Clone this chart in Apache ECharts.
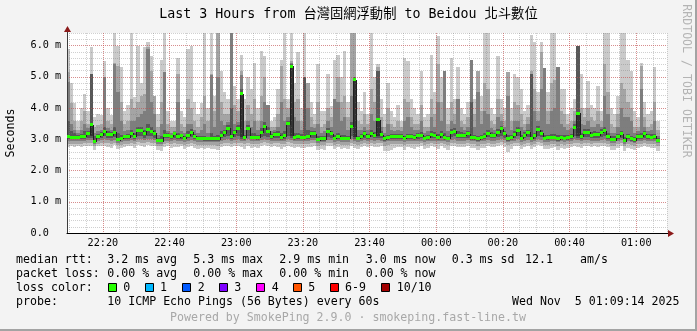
<!DOCTYPE html>
<html><head><meta charset="utf-8">
<script src="https://cdn.jsdelivr.net/npm/echarts@6/dist/echarts.min.js"></script>
<style>html,body{margin:0;padding:0;background:#f3f3f3}#c{width:697px;height:331px}</style>
</head><body><div id="c"></div><script>
// ---- data: one slot per minute, first slot starts 22:09 (minutes after 22:00) ----
const FIRST_SLOT = 9;
const START_MIN = 9 + 14 / 60;          // 22:09:14
const END_MIN = START_MIN + 180;         // 01:09:14
const title = 'Last 3 Hours from 台灣固網浮動制 to Beidou 北斗數位';

const median = [
3.10,3.07,3.07,3.07,3.08,3.10,3.17,3.47,2.94,3.10,
3.14,3.25,3.15,3.14,3.23,2.99,3.04,3.08,3.08,3.19,
3.09,3.27,3.27,3.17,3.30,3.25,3.19,2.96,2.96,3.13,
3.13,3.10,3.17,3.08,3.12,3.04,3.13,3.23,3.10,3.04,
3.04,3.01,3.01,3.02,3.02,3.01,3.13,3.21,3.36,3.09,
3.22,3.36,4.46,3.06,3.36,3.07,3.07,3.06,3.23,3.41,
3.25,3.09,3.15,3.15,3.06,3.12,3.49,5.33,3.06,3.09,
3.07,3.06,3.09,3.17,3.17,2.99,3.01,3.02,3.25,3.17,
3.04,3.09,3.04,3.04,3.04,3.42,4.91,3.04,3.09,3.17,
3.09,3.20,3.13,3.63,3.15,3.01,3.06,3.08,3.10,3.08,
3.10,3.03,3.08,3.08,3.06,3.11,3.13,3.04,3.06,3.15,
3.13,3.06,3.15,3.06,3.04,3.23,3.25,3.13,3.13,3.13,
3.17,3.06,3.06,3.01,3.06,3.10,3.19,3.13,3.13,3.23,
3.33,3.17,3.03,3.06,3.15,3.27,3.04,3.13,3.22,3.04,
3.11,3.31,3.20,3.04,3.05,3.07,3.07,3.01,3.06,3.04,
3.06,3.09,3.38,3.84,3.09,3.22,3.22,3.13,3.15,3.15,
3.22,3.27,3.09,2.99,2.99,3.09,3.17,2.96,3.08,3.02,
2.98,3.09,3.09,3.17,3.09,3.07,3.09,2.97];

const ping10 = [
5.89,4.80,4.15,3.60,4.00,4.45,3.90,5.95,3.70,3.80,
3.78,5.52,4.00,3.78,6.60,6.00,5.30,3.90,4.10,6.60,
4.35,6.00,4.80,5.94,6.10,5.65,4.40,3.80,5.55,6.60,
3.90,3.60,3.60,5.60,3.90,3.70,5.90,6.00,4.20,3.80,
4.16,6.60,4.00,6.60,4.40,6.60,5.20,4.50,4.30,6.60,
4.70,4.30,5.70,4.30,5.00,4.60,5.45,4.00,5.83,5.65,
4.10,3.60,3.70,4.60,5.55,6.60,4.30,6.60,4.80,5.80,
4.00,6.60,4.80,4.20,3.80,5.40,3.90,3.90,5.08,4.08,
5.55,5.70,5.00,5.83,4.20,6.60,6.60,4.20,3.90,4.50,
3.80,6.60,5.00,5.40,4.30,3.80,4.80,3.90,3.70,4.10,
3.60,5.60,5.50,4.30,4.00,3.80,5.20,3.70,3.80,5.70,
4.50,6.30,5.00,5.20,4.00,5.60,4.30,5.30,4.00,3.80,
4.20,5.55,4.30,5.20,4.40,6.60,6.60,4.00,3.80,5.65,
4.30,4.00,5.15,4.00,5.10,5.00,4.60,3.90,4.10,6.35,
6.10,4.50,6.10,5.28,4.50,6.60,6.60,5.30,4.60,4.60,
3.80,4.00,4.30,6.00,5.10,4.00,4.85,4.10,4.00,4.70,
3.90,6.60,6.60,4.00,3.80,4.40,6.60,6.60,5.55,5.20,
3.90,3.70,5.45,4.20,3.80,3.90,5.30,3.60];

const ping9 = [
5.16,4.15,3.60,3.30,3.60,3.90,3.50,5.10,3.40,3.45,
3.50,5.00,3.60,3.50,5.45,5.35,4.20,3.50,3.60,4.30,
4.00,4.20,4.40,4.45,5.94,5.20,4.40,3.40,4.20,5.15,
3.50,3.40,3.40,5.08,3.50,3.40,4.30,4.00,3.60,3.40,
3.70,4.40,3.60,5.08,3.90,6.50,4.20,3.80,3.80,6.55,
4.10,3.90,5.20,3.60,4.10,3.80,4.30,3.60,4.40,5.00,
4.10,3.40,3.40,3.80,5.35,4.30,4.00,5.50,4.20,4.30,
3.60,5.00,4.80,3.70,3.50,4.20,3.40,3.50,4.00,3.70,
4.30,5.00,4.20,4.40,3.70,6.60,6.60,3.60,3.50,3.80,
3.50,4.60,4.20,5.30,3.70,3.40,4.00,3.50,3.40,3.60,
3.40,4.30,4.20,3.70,3.50,3.50,4.10,3.40,3.40,4.30,
3.80,5.40,4.20,5.20,3.50,4.20,3.80,4.30,3.60,3.50,
3.70,5.55,3.80,5.20,3.90,4.80,4.60,3.60,3.50,4.30,
3.80,3.60,5.15,3.60,4.20,4.10,3.80,3.50,3.70,5.20,
4.60,3.90,5.80,5.28,3.90,4.80,4.90,5.30,3.90,3.80,
3.50,3.60,3.90,6.00,4.00,3.70,4.00,3.70,3.60,3.90,
3.60,5.40,4.50,3.50,3.40,3.80,4.80,4.60,4.20,4.00,
3.40,3.40,5.35,3.70,3.40,3.50,4.20,3.30];

const ping8 = [
4.84,3.50,3.30,3.20,3.30,3.50,3.35,5.08,3.20,3.25,
3.30,5.00,3.35,3.30,5.40,4.50,3.60,3.25,3.30,3.60,
3.60,3.70,3.80,3.90,5.90,4.20,3.80,3.15,3.50,5.15,
3.25,3.20,3.25,4.20,3.25,3.20,3.50,3.50,3.30,3.20,
3.30,3.50,3.20,5.05,3.40,5.00,3.60,3.45,3.55,6.50,
3.50,3.55,5.05,3.30,3.60,3.40,3.60,3.30,3.60,4.20,
4.10,3.25,3.30,3.40,4.20,3.60,3.70,5.45,3.70,3.60,
3.30,5.00,4.00,3.40,3.35,3.50,3.20,3.25,3.60,3.40,
4.30,4.20,3.60,3.70,3.30,4.40,5.00,3.30,3.30,3.40,
3.30,3.80,3.60,5.20,3.40,3.20,3.50,3.30,3.25,3.30,
3.25,3.60,3.70,3.40,3.30,3.30,3.60,3.20,3.25,3.70,
3.40,4.20,3.60,5.20,3.25,3.60,3.50,4.30,3.40,3.30,
3.40,5.55,3.40,4.50,3.50,3.90,3.80,3.35,3.30,3.70,
3.60,3.40,4.40,3.30,3.60,3.60,3.40,3.30,3.50,5.10,
3.90,3.60,4.60,5.28,3.50,3.90,4.00,5.30,3.50,3.40,
3.30,3.35,3.60,5.98,3.50,3.45,3.60,3.40,3.40,3.50,
3.40,4.40,3.80,3.20,3.20,3.40,4.00,3.70,3.70,3.60,
3.20,3.25,4.60,3.40,3.25,3.30,3.60,3.10];

const ping7 = [
3.60,3.25,3.20,3.15,3.18,3.25,3.25,5.08,3.10,3.18,
3.22,3.40,3.25,3.22,3.40,3.20,3.15,3.15,3.18,3.30,
3.20,3.40,3.40,3.30,3.50,3.40,3.30,3.05,3.10,3.30,
3.20,3.15,3.22,3.20,3.18,3.12,3.25,3.32,3.18,3.12,
3.12,3.10,3.08,3.20,3.10,3.15,3.25,3.30,3.45,4.00,
3.30,3.45,4.60,3.15,3.45,3.20,3.20,3.15,3.35,3.55,
3.40,3.18,3.22,3.25,3.20,3.25,3.60,5.40,3.20,3.20,
3.18,5.00,3.30,3.25,3.25,3.10,3.10,3.12,3.35,3.25,
3.15,3.20,3.15,3.15,3.12,3.55,5.00,3.12,3.18,3.25,
3.18,3.30,3.22,5.20,3.25,3.10,3.15,3.16,3.18,3.16,
3.18,3.12,3.18,3.16,3.14,3.20,3.22,3.12,3.15,3.25,
3.22,3.16,3.25,3.20,3.12,3.32,3.35,3.25,3.22,3.20,
3.25,4.20,3.15,3.12,3.15,3.20,3.30,3.22,3.20,3.32,
3.42,3.25,3.15,3.15,3.25,3.38,3.14,3.22,3.30,5.10,
3.20,3.42,3.30,3.14,3.15,3.18,3.18,3.14,3.15,3.14,
3.15,3.18,3.50,5.98,3.20,3.32,3.32,3.22,3.25,3.24,
3.32,3.38,3.20,3.10,3.10,3.18,3.28,3.08,3.18,3.12,
3.08,3.18,3.20,3.25,3.18,3.16,3.18,3.05];

const ping6 = [
3.13,3.10,3.10,3.10,3.11,3.13,3.20,3.50,2.97,3.13,
3.17,3.28,3.18,3.17,3.26,3.02,3.07,3.11,3.11,3.22,
3.12,3.30,3.30,3.20,3.33,3.28,3.22,2.99,2.99,3.16,
3.16,3.13,3.20,3.11,3.15,3.07,3.16,3.26,3.13,3.07,
3.07,3.04,3.04,3.05,3.05,3.04,3.16,3.24,3.39,3.12,
3.25,3.39,4.49,3.09,3.39,3.10,3.10,3.09,3.26,3.44,
3.28,3.12,3.18,3.18,3.09,3.15,3.52,5.36,3.09,3.12,
3.10,3.09,3.12,3.20,3.20,3.02,3.04,3.05,3.28,3.20,
3.07,3.12,3.07,3.07,3.07,3.45,4.94,3.07,3.12,3.20,
3.12,3.23,3.16,3.66,3.18,3.04,3.09,3.11,3.13,3.11,
3.13,3.06,3.11,3.11,3.09,3.14,3.16,3.07,3.09,3.18,
3.16,3.09,3.18,3.09,3.07,3.26,3.28,3.16,3.16,3.16,
3.20,3.09,3.09,3.04,3.09,3.13,3.22,3.16,3.16,3.26,
3.36,3.20,3.06,3.09,3.18,3.30,3.07,3.16,3.25,3.07,
3.14,3.34,3.23,3.07,3.08,3.10,3.10,3.04,3.09,3.07,
3.09,3.12,3.41,3.87,3.12,3.25,3.25,3.16,3.18,3.18,
3.25,3.30,3.12,3.02,3.02,3.12,3.20,2.99,3.11,3.05,
3.01,3.12,3.12,3.20,3.12,3.10,3.12,3.00];

const ping5 = [
3.07,3.04,3.04,3.04,3.05,3.07,3.14,3.10,2.91,3.07,
3.11,3.22,3.12,3.11,3.20,2.96,3.01,3.05,3.05,3.16,
3.06,3.24,3.24,3.14,3.27,3.22,3.16,2.93,2.93,3.10,
3.10,3.07,3.14,3.05,3.09,3.01,3.10,3.20,3.07,3.01,
3.01,2.98,2.98,2.99,2.99,2.98,3.10,3.18,3.33,3.06,
3.19,3.33,3.08,3.03,3.33,3.04,3.04,3.03,3.20,3.38,
3.22,3.06,3.12,3.12,3.03,3.09,3.46,3.10,3.03,3.06,
3.04,3.03,3.06,3.14,3.14,2.96,2.98,2.99,3.22,3.14,
3.01,3.06,3.01,3.01,3.01,3.39,3.06,3.01,3.06,3.14,
3.06,3.17,3.10,3.12,3.12,2.98,3.03,3.05,3.07,3.05,
3.07,3.00,3.05,3.05,3.03,3.08,3.10,3.01,3.03,3.12,
3.10,3.03,3.12,3.03,3.01,3.20,3.22,3.10,3.10,3.10,
3.14,3.03,3.03,2.98,3.03,3.07,3.16,3.10,3.10,3.20,
3.30,3.14,3.00,3.03,3.12,3.24,3.01,3.10,3.19,3.01,
3.08,3.28,3.17,3.01,3.02,3.04,3.04,2.98,3.03,3.01,
3.03,3.06,3.35,3.12,3.06,3.19,3.19,3.10,3.12,3.12,
3.19,3.24,3.06,2.96,2.96,3.06,3.14,2.93,3.05,2.99,
2.95,3.06,3.06,3.14,3.06,3.04,3.06,2.94];

const ping4 = [
3.02,3.00,3.00,3.01,3.01,3.02,3.05,3.04,2.88,3.02,
3.04,3.10,3.05,3.04,3.08,2.93,2.97,3.00,3.00,3.06,
3.00,3.12,3.10,3.05,3.12,3.10,3.05,2.90,2.90,3.03,
3.03,3.01,3.05,3.00,3.02,2.97,3.03,3.08,3.01,2.97,
2.97,2.95,2.95,2.96,2.96,2.95,3.03,3.07,3.10,3.00,
3.08,3.10,3.02,2.99,3.10,3.00,3.00,2.99,3.08,3.12,
3.08,3.01,3.04,3.04,2.99,3.02,3.12,3.04,2.99,3.01,
3.00,2.99,3.01,3.05,3.05,2.93,2.95,2.96,3.08,3.05,
2.97,3.01,2.97,2.97,2.97,3.10,3.00,2.97,3.01,3.05,
3.01,3.06,3.03,3.05,3.04,2.95,2.99,3.00,3.01,3.00,
3.01,2.97,3.00,3.00,2.99,3.02,3.03,2.97,2.99,3.04,
3.03,2.99,3.04,2.99,2.97,3.08,3.10,3.03,3.03,3.03,
3.05,2.99,2.99,2.95,2.99,3.01,3.06,3.03,3.03,3.08,
3.12,3.05,2.96,2.99,3.04,3.10,2.97,3.03,3.07,2.97,
3.02,3.12,3.06,2.97,2.98,3.00,3.00,2.95,2.99,2.97,
2.99,3.01,3.10,3.05,3.01,3.07,3.07,3.03,3.04,3.04,
3.07,3.10,3.01,2.93,2.93,3.01,3.05,2.90,3.00,2.96,
2.92,3.01,3.01,3.05,3.01,3.00,3.01,2.91];

const ping3 = [
2.96,2.95,2.94,2.95,2.95,2.96,2.97,2.97,2.85,2.95,
2.97,3.00,2.97,2.96,2.99,2.89,2.92,2.94,2.94,2.98,
2.94,3.01,3.00,2.97,3.02,3.00,2.97,2.86,2.86,2.96,
2.96,2.94,2.97,2.94,2.95,2.92,2.96,2.99,2.94,2.92,
2.92,2.90,2.90,2.91,2.91,2.90,2.96,2.98,3.00,2.94,
2.99,3.00,2.96,2.93,3.00,2.94,2.94,2.93,2.99,3.01,
2.99,2.94,2.96,2.96,2.93,2.95,3.01,2.97,2.93,2.94,
2.94,2.93,2.94,2.97,2.97,2.88,2.90,2.91,2.99,2.97,
2.92,2.94,2.92,2.92,2.92,3.00,2.94,2.92,2.94,2.97,
2.94,2.97,2.95,2.97,2.96,2.90,2.93,2.94,2.94,2.94,
2.94,2.91,2.94,2.94,2.93,2.95,2.96,2.91,2.93,2.96,
2.95,2.93,2.96,2.93,2.91,2.99,3.00,2.95,2.95,2.95,
2.97,2.93,2.93,2.90,2.93,2.94,2.97,2.95,2.95,2.99,
3.01,2.97,2.91,2.93,2.96,3.00,2.92,2.95,2.98,2.92,
2.95,3.01,2.97,2.92,2.92,2.94,2.94,2.90,2.93,2.92,
2.93,2.94,3.00,2.97,2.94,2.98,2.98,2.95,2.96,2.96,
2.98,3.00,2.94,2.88,2.88,2.94,2.97,2.86,2.94,2.91,
2.88,2.94,2.94,2.97,2.94,2.93,2.94,2.87];

const ping2 = [
2.86,2.86,2.85,2.86,2.86,2.87,2.87,2.88,2.78,2.86,
2.87,2.89,2.87,2.86,2.89,2.81,2.83,2.85,2.85,2.88,
2.85,2.90,2.89,2.87,2.91,2.89,2.87,2.78,2.77,2.86,
2.87,2.85,2.87,2.85,2.86,2.83,2.86,2.89,2.85,2.83,
2.83,2.81,2.82,2.82,2.81,2.80,2.86,2.88,2.89,2.85,
2.89,2.89,2.87,2.84,2.89,2.85,2.85,2.84,2.89,2.90,
2.89,2.85,2.87,2.87,2.84,2.86,2.90,2.88,2.84,2.85,
2.85,2.84,2.85,2.87,2.87,2.79,2.82,2.81,2.89,2.87,
2.83,2.85,2.83,2.83,2.83,2.89,2.85,2.83,2.85,2.87,
2.85,2.87,2.86,2.87,2.87,2.80,2.82,2.84,2.85,2.85,
2.85,2.81,2.85,2.85,2.84,2.86,2.87,2.82,2.84,2.87,
2.86,2.84,2.87,2.84,2.81,2.89,2.89,2.86,2.86,2.86,
2.87,2.84,2.84,2.80,2.84,2.85,2.87,2.86,2.86,2.89,
2.90,2.87,2.81,2.84,2.87,2.89,2.83,2.86,2.88,2.83,
2.86,2.90,2.87,2.83,2.82,2.85,2.85,2.80,2.84,2.83,
2.84,2.85,2.89,2.87,2.85,2.88,2.88,2.86,2.87,2.87,
2.88,2.89,2.85,2.79,2.79,2.85,2.87,2.77,2.85,2.82,
2.79,2.85,2.85,2.87,2.85,2.84,2.85,2.78];

const ping1 = [
2.74,2.78,2.76,2.79,2.75,2.80,2.77,2.79,2.66,2.77,
2.79,2.80,2.76,2.72,2.81,2.68,2.71,2.75,2.77,2.80,
2.73,2.82,2.78,2.75,2.82,2.79,2.78,2.66,2.63,2.74,
2.78,2.73,2.76,2.74,2.77,2.70,2.76,2.79,2.73,2.70,
2.72,2.69,2.71,2.70,2.68,2.67,2.76,2.78,2.79,2.74,
2.79,2.78,2.75,2.70,2.79,2.73,2.74,2.71,2.78,2.81,
2.78,2.74,2.77,2.75,2.70,2.76,2.80,2.75,2.71,2.74,
2.73,2.71,2.74,2.76,2.77,2.65,2.69,2.67,2.79,2.77,
2.70,2.74,2.70,2.72,2.70,2.78,2.73,2.70,2.74,2.77,
2.74,2.77,2.75,2.75,2.77,2.62,2.61,2.65,2.73,2.74,
2.74,2.67,2.74,2.72,2.70,2.76,2.77,2.68,2.71,2.77,
2.75,2.70,2.77,2.71,2.67,2.80,2.80,2.75,2.75,2.74,
2.77,2.71,2.71,2.66,2.71,2.73,2.77,2.75,2.74,2.80,
2.81,2.76,2.60,2.70,2.77,2.80,2.70,2.75,2.78,2.70,
2.75,2.81,2.77,2.70,2.68,2.73,2.74,2.66,2.71,2.70,
2.73,2.74,2.80,2.76,2.73,2.78,2.78,2.75,2.77,2.75,
2.78,2.80,2.74,2.65,2.66,2.73,2.77,2.62,2.73,2.68,
2.65,2.73,2.74,2.77,2.74,2.71,2.73,2.64];

const lossLabels = ['0', '1', '2', '3', '4', '5', '6-9', '10/10'];
const lossColors = ['#26ff00', '#00b8ff', '#0059ff', '#7e00ff', '#ff00ff', '#ff5500', '#ff0000', '#a10000'];

// ---- build series data ----
const slotStart = median.map((_, i) => FIRST_SLOT + i);
const pings = [ping1, ping2, ping3, ping4, ping5, ping6, ping7, ping8, ping9, ping10];
const smokeData = slotStart.map((m, i) => [m].concat(pings.map(p => p[i])));
const medData = slotStart.map((m, i) => [m, median[i], i > 0 ? median[i - 1] : median[i]]);

const SHADES = ['#cacaca', '#a4a4a4', '#7e7e7e', '#585858', '#323232'];
const MONO = '"DejaVu Sans Mono", "Noto Sans CJK TC", monospace';

function clip(r, cs) { return echarts.graphic.clipRectByRect(r, cs); }

function renderSmoke(params, api) {
  const cs = params.coordSys;
  const x0 = api.value(0);
  const l = Math.round(api.coord([x0, 0])[0]);
  const r = Math.round(api.coord([x0 + 1, 0])[0]);
  const children = [];
  for (let i = 0; i < 5; i++) {
    const a = Math.round(api.coord([x0, api.value(1 + i)])[1]);
    const b = Math.round(api.coord([x0, api.value(10 - i)])[1]);
    const top = Math.min(a, b), bot = Math.max(a, b);
    const shape = clip({x: l, y: top, width: r - l, height: Math.max(1, bot - top)}, cs);
    if (shape) children.push({type: 'rect', shape, style: {fill: SHADES[i]}});
  }
  return {type: 'group', children};
}

function renderMedian(params, api) {
  const cs = params.coordSys;
  const x0 = api.value(0);
  const l = Math.round(api.coord([x0, 0])[0]);
  const r = Math.round(api.coord([x0 + 1, 0])[0]);
  const y = api.coord([x0, api.value(1)])[1];
  const yp = api.coord([x0, api.value(2)])[1];
  const children = [];
  const t = Math.round(Math.min(y, yp)), bt = Math.round(Math.max(y, yp));
  const vs = clip({x: l, y: t, width: 1, height: Math.max(1, bt - t + 1)}, cs);
  if (vs) children.push({type: 'rect', shape: vs, style: {fill: '#202020'}});
  const gy = Math.round(y - 1.5);
  const gs = clip({x: l, y: gy, width: r - l, height: 3}, cs);
  if (gs) children.push({type: 'rect', shape: gs, style: {fill: '#26ff00'}});
  return {type: 'group', children};
}

function pad(n) { return (n < 10 ? '0' : '') + n; }
function fmtTime(v) {
  const rem = ((v % 20) + 20) % 20;
  if (rem > 1e-6 && rem < 20 - 1e-6) return '';
  const t = Math.round(22 * 60 + v);
  return pad(Math.floor(t / 60) % 24) + ':' + pad(t % 60);
}
function fmtY(v) {
  if (Math.abs(v - Math.round(v)) > 1e-6) return '';
  return Math.round(v) === 0 ? '0.0' : v.toFixed(1) + ' m';
}

const TXT = '11.6px ' + MONO;
function txt(text, x, y, extra) {
  return Object.assign({type: 'text', x, y, silent: true,
    style: {text, font: TXT, fill: '#000', align: 'left', verticalAlign: 'middle'}}, extra || {});
}

const graphics = [
  {type: 'text', x: 348.5, y: 15, style: {text: title, font: '13.3px ' + MONO, fill: '#000', align: 'center', verticalAlign: 'middle'}},
  {type: 'text', x: 686.5, y: 81, rotation: -Math.PI / 2, style: {text: 'RRDTOOL / TOBI OETIKER', font: TXT, fill: '#b4b4b4', align: 'center', verticalAlign: 'middle'}},
  {type: 'text', x: 11, y: 133, rotation: Math.PI / 2, style: {text: 'Seconds', font: TXT, fill: '#000', align: 'center', verticalAlign: 'middle'}},
  txt('median rtt:', 16, 259.5), txt('3.2 ms avg', 107.3, 259.5), txt('5.3 ms max', 193.3, 259.5),
  txt('2.9 ms min', 279.3, 259.5), txt('3.0 ms now', 365.7, 259.5), txt('0.3 ms sd', 451.7, 259.5),
  txt('12.1', 525, 259.5), txt('am/s', 580, 259.5),
  txt('packet loss:', 16, 273.5), txt('0.00 % avg', 107.3, 273.5), txt('0.00 % max', 193.3, 273.5),
  txt('0.00 % min', 279.3, 273.5), txt('0.00 % now', 365.7, 273.5),
  txt('loss color:', 16, 287.5),
  txt('probe:', 16, 301.5), txt('10 ICMP Echo Pings (56 Bytes) every 60s', 107.3, 301.5),
  {type: 'text', x: 679.5, y: 301.5, style: {text: 'Wed Nov  5 01:09:14 2025', font: TXT, fill: '#000', align: 'right', verticalAlign: 'middle'}},
  {type: 'text', x: 170, y: 318, style: {text: 'Powered by SmokePing 2.9.0 · smokeping.fast-line.tw', font: TXT, fill: '#a8a8a8', align: 'left', verticalAlign: 'middle'}},
  {type: 'rect', shape: {x: 0, y: 329, width: 697, height: 2}, style: {fill: '#a3a3a3'}},
  {type: 'rect', shape: {x: 695, y: 0, width: 2, height: 331}, style: {fill: '#a3a3a3'}}
];
const boxX = [108.5, 145.5, 182.5, 219.5, 256.5, 293.5, 330.5, 381.5];
const labX = [123.3, 160, 197.7, 234.3, 271.7, 308.3, 345, 396.7];
lossLabels.forEach((lab, i) => {
  graphics.push({type: 'rect', shape: {x: boxX[i], y: 283.5, width: 8, height: 8}, style: {fill: lossColors[i], stroke: '#000', lineWidth: 1}});
  graphics.push(txt(lab, labX[i], 287.5));
});

const chart = echarts.init(document.getElementById('c'), null, {renderer: 'canvas'});
const majorGrid = {color: 'rgba(225,60,60,0.45)', type: [1, 1], width: 1};
const minorGrid = {color: 'rgba(120,120,120,0.35)', type: [1, 1], width: 1};
chart.setOption({
  animation: false,
  backgroundColor: '#f3f3f3',
  grid: {left: 67, right: 30, top: 33, bottom: 98, show: true, backgroundColor: '#ffffff', borderWidth: 0},
  xAxis: [
    {type: 'value', position: 'bottom', min: START_MIN, max: END_MIN, minInterval: 20, maxInterval: 20, z: 4,
     axisLine: {show: true, onZero: false, lineStyle: {color: '#000', width: 1}},
     axisTick: {show: false},
     axisLabel: {formatter: fmtTime, fontFamily: MONO, fontSize: 10.2, color: '#000', margin: 5, showMinLabel: false, showMaxLabel: false},
     splitLine: {show: true, showMinLine: false, showMaxLine: false, lineStyle: majorGrid}},
    {type: 'value', position: 'bottom', min: START_MIN, max: END_MIN, minInterval: 5, maxInterval: 5, z: 3,
     axisLine: {show: false}, axisTick: {show: false}, axisLabel: {show: false},
     splitLine: {show: true, showMinLine: false, lineStyle: minorGrid}}
  ],
  yAxis: [
    {type: 'value', position: 'left', min: 0, max: 6.4, minInterval: 1, maxInterval: 1, z: 4,
     axisLine: {show: true, onZero: false, lineStyle: {color: '#3c3c3c', width: 1}},
     axisTick: {show: false},
     axisLabel: {formatter: fmtY, fontFamily: MONO, fontSize: 10.2, color: '#000', margin: 36.5, align: 'left', showMaxLabel: false},
     splitLine: {show: true, showMinLine: false, showMaxLine: false, lineStyle: majorGrid}},
    {type: 'value', position: 'left', min: 0, max: 6.4, minInterval: 0.2, maxInterval: 0.2, z: 3,
     axisLine: {show: false}, axisTick: {show: false}, axisLabel: {show: false},
     splitLine: {show: true, showMinLine: false, lineStyle: minorGrid}}
  ],
  series: [
    {type: 'custom', name: 'smoke', xAxisIndex: 0, yAxisIndex: 0, z: 2, silent: true,
     renderItem: renderSmoke, data: smokeData, encode: {x: 0, y: [1, 10]}},
    {type: 'custom', name: 'median', xAxisIndex: 0, yAxisIndex: 0, z: 6, silent: true,
     renderItem: renderMedian, data: medData, encode: {x: 0, y: 1}}
  ],
  graphic: graphics
});

// axis arrows placed through the chart's own scales
const pEndX = chart.convertToPixel({gridIndex: 0}, [END_MIN, 0]);
const pTopY = chart.convertToPixel({gridIndex: 0}, [START_MIN, 6.4]);
const ax = Math.round(pEndX[0]), ay = Math.round(pEndX[1]) + 0.5;
const bx = Math.round(pTopY[0]) + 0.5, by = Math.round(pTopY[1]);
graphics.push(
  {type: 'rect', shape: {x: ax, y: ay - 0.5, width: 2, height: 1}, style: {fill: '#000'}},
  {type: 'polygon', shape: {points: [[ax + 1, ay - 3.5], [ax + 7, ay], [ax + 1, ay + 3.5]]}, style: {fill: '#8b1a1a'}},
  {type: 'rect', shape: {x: bx - 0.5, y: by - 3, width: 1, height: 3}, style: {fill: '#3c3c3c'}},
  {type: 'polygon', shape: {points: [[bx - 3.5, by - 1], [bx, by - 7], [bx + 3.5, by - 1]]}, style: {fill: '#8b1a1a'}}
);
chart.setOption({graphic: graphics});
</script></body></html>
